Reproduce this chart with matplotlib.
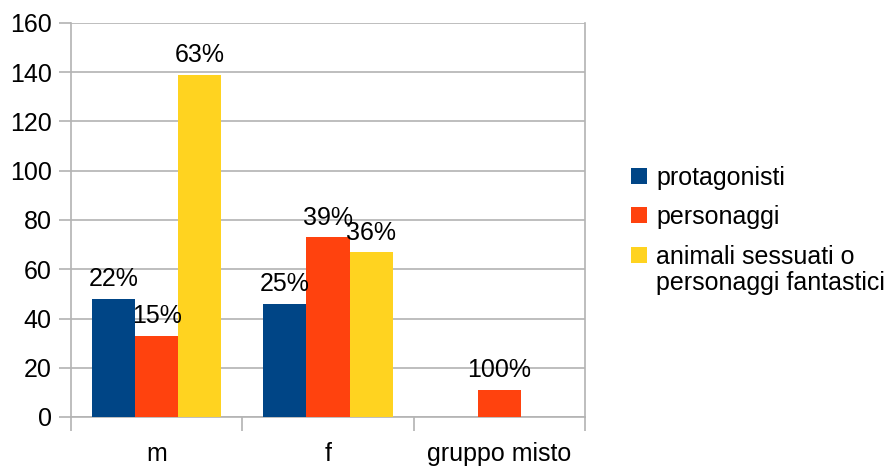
import matplotlib
matplotlib.use("Agg")
import matplotlib.pyplot as plt
from matplotlib.patches import Rectangle
import numpy as np

plt.rcParams['font.family'] = ['Liberation Sans', 'DejaVu Sans']

categories = ["m", "f", "gruppo misto"]
series_names = ["protagonisti", "personaggi", "animali sessuati o\npersonaggi fantastici"]
protagonisti = [48, 46, 0]
personaggi = [33, 73, 11]
animali = [139, 67, 0]
labels_prot = ["22%", "25%", None]
labels_pers = ["15%", "39%", "100%"]
labels_anim = ["63%", "36%", None]
colors = ["#004586", "#ff420e", "#ffd320"]

FS = 18
W, H = 895, 466
fig = plt.figure(figsize=(W / 100, H / 100), dpi=100)
ax = fig.add_axes([71/W, 49/H, 514/W, 394/H])

x = np.arange(len(categories))
w = 0.251
series = [protagonisti, personaggi, animali]
labels = [labels_prot, labels_pers, labels_anim]
for i, (vals, labs, c, name) in enumerate(zip(series, labels, colors, series_names)):
    pos = x + (i - 1) * w
    ax.bar(pos, vals, width=w, color=c, label=name, zorder=3)
    for p, v, lab in zip(pos, vals, labs):
        if lab:
            ax.annotate(lab, (p, v), xytext=(0, 9), textcoords="offset points",
                        ha="center", va="baseline", fontsize=FS, zorder=4)

ax.set_xlim(-0.5, 2.5)
ax.set_ylim(0, 160)
ax.set_yticks(range(0, 161, 20))
ax.set_xticks(x)
ax.set_xticklabels(categories)
ax.set_xticks([-0.5, 0.5, 1.5, 2.5], minor=True)
ax.tick_params(axis='x', which='major', length=0, labelsize=FS, pad=18)
ax.tick_params(axis='x', which='minor', length=10, color="#b3b3b3", width=1.2)
ax.tick_params(axis='y', length=9, color="#b3b3b3", width=1.2, labelsize=FS, pad=5)
ax.yaxis.grid(True, color="#b3b3b3", linewidth=1.2, zorder=0)
ax.spines["top"].set_visible(False)
for s in ["left", "bottom", "right"]:
    ax.spines[s].set_color("#b3b3b3")
    ax.spines[s].set_linewidth(1.2)

# legend (first line of each entry aligned with its colour square)
marker_y = [176, 215, 255]
line_gap = 26
for name, c, my in zip(series_names, colors, marker_y):
    fig.add_artist(Rectangle((631 / W, 1 - (my + 8) / H), 16 / W, 16 / H,
                             transform=fig.transFigure, facecolor=c, edgecolor="none"))
    for k, line in enumerate(name.split("\n")):
        fig.text(656 / W, 1 - (my + 9 + k * line_gap) / H, line, fontsize=FS,
                 ha="left", va="baseline")

fig.savefig("out.png", dpi=100)
